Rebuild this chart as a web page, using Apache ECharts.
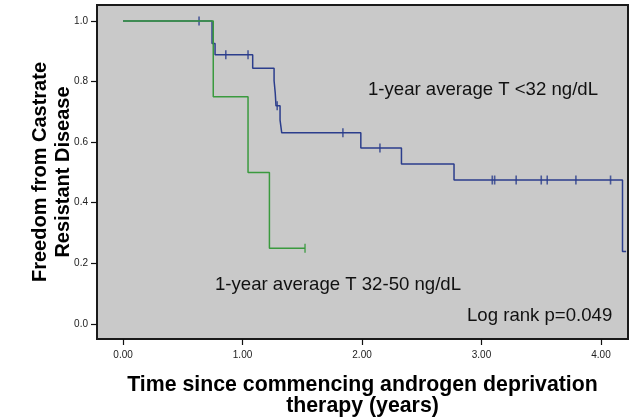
<!DOCTYPE html>
<html>
<head>
<meta charset="utf-8">
<script src="https://cdn.jsdelivr.net/npm/echarts@6/dist/echarts.min.js"></script>
<style>
    html, body { margin: 0; padding: 0; background: #fff; }
    #km_chart { width: 641px; height: 419px; }
</style>
</head>
<body>
<div id="km_chart"></div>
<script>
    // step curve for 1-year average T <32 ng/dL  [time (years), survival]
    const lowTSteps = [
        [0, 1.0], [0.745, 0.926], [0.77, 0.889], [1.085, 0.844],
        [1.264, 0.803], [1.274, 0.761], [1.28, 0.72], [1.314, 0.673],
        [1.328, 0.631], [1.99, 0.581], [2.33, 0.528], [2.77, 0.475],
        [4.18, 0.239], [4.21, 0.239]
    ];
    const lowTCensored = [
        [0.636, 1.0], [0.86, 0.889], [1.046, 0.889], [1.29, 0.72],
        [1.84, 0.631], [2.15, 0.581], [3.09, 0.475], [3.11, 0.475],
        [3.29, 0.475], [3.50, 0.475], [3.55, 0.475], [3.79, 0.475],
        [4.08, 0.475]
    ];
    // step curve for 1-year average T 32-50 ng/dL
    const midTSteps = [
        [0, 1.0], [0.755, 0.75], [1.046, 0.5], [1.225, 0.25], [1.523, 0.25]
    ];
    const midTCensored = [
        [1.523, 0.25]
    ];
    const xTicks = [0, 1, 2, 3, 4];
    const yTicks = [0, 0.2, 0.4, 0.6, 0.8, 1.0];

    const blue = '#2b3d8c';
    const green = '#3a9a3e';
    const noteFont = '18.6px Liberation Sans, Arial, sans-serif';

    const chart = echarts.init(document.getElementById('km_chart'));

    const option = {
        animation: false,
        textStyle: { fontFamily: 'Liberation Sans, Arial, sans-serif' },
        grid: {
            left: 97,
            top: 5,
            right: 13,
            bottom: 80,
            outerBoundsMode: 'none',
            show: true,
            backgroundColor: '#c9c9c9',
            borderColor: '#1a1a1a',
            borderWidth: 2
        },
        xAxis: {
            type: 'value',
            min: -0.218,
            max: 4.226,
            splitLine: { show: false },
            axisLine: { show: false, onZero: false },
            axisTick: {
                show: true,
                customValues: xTicks,
                length: 6,
                lineStyle: { color: '#111', width: 1.2 }
            },
            axisLabel: {
                customValues: xTicks,
                formatter: (v) => v.toFixed(2),
                color: '#222',
                fontSize: 10,
                margin: 11
            },
            name: 'Time since commencing androgen deprivation\ntherapy (years)',
            nameLocation: 'middle',
            nameGap: 36,
            nameMoveOverlap: false,
            nameTextStyle: {
                color: '#000',
                fontSize: 21.3,
                fontWeight: 'bold',
                lineHeight: 21
            }
        },
        yAxis: {
            type: 'value',
            min: -0.05,
            max: 1.053,
            splitLine: { show: false },
            axisLine: { show: false, onZero: false },
            axisTick: {
                show: true,
                customValues: yTicks,
                length: 6,
                lineStyle: { color: '#111', width: 1.2 }
            },
            axisLabel: {
                customValues: yTicks,
                formatter: (v) => v.toFixed(1),
                color: '#222',
                fontSize: 10,
                margin: 9
            },
            name: 'Freedom from Castrate\nResistant Disease',
            nameLocation: 'middle',
            nameGap: 22,
            nameMoveOverlap: false,
            nameTextStyle: {
                color: '#000',
                fontSize: 20,
                fontWeight: 'bold',
                lineHeight: 23
            }
        },
        series: [
            {
                name: 'T <32',
                type: 'line',
                step: 'end',
                symbol: 'none',
                lineStyle: { color: blue, width: 1.5 },
                data: lowTSteps,
                z: 2
            },
            {
                name: 'T <32 censored',
                type: 'scatter',
                symbol: 'rect',
                symbolSize: [1.6, 9],
                itemStyle: { color: blue },
                data: lowTCensored,
                z: 2
            },
            {
                name: 'T 32-50',
                type: 'line',
                step: 'end',
                symbol: 'none',
                lineStyle: { color: green, width: 1.5 },
                data: midTSteps,
                z: 3
            },
            {
                name: 'T 32-50 censored',
                type: 'scatter',
                symbol: 'rect',
                symbolSize: [1.6, 9],
                itemStyle: { color: green },
                data: midTCensored,
                z: 3
            }
        ],
        graphic: [
            {
                type: 'text',
                x: 368,
                y: 90,
                style: { text: '1-year average T <32 ng/dL', fill: '#111', font: noteFont, verticalAlign: 'middle' }
            },
            {
                type: 'text',
                x: 215,
                y: 285,
                style: { text: '1-year average T 32-50 ng/dL', fill: '#111', font: noteFont, verticalAlign: 'middle' }
            },
            {
                type: 'text',
                x: 467,
                y: 316,
                style: { text: 'Log rank p=0.049', fill: '#111', font: noteFont, verticalAlign: 'middle' }
            }
        ]
    };

    chart.setOption(option);

    window.addEventListener('resize', function () {
        chart.resize();
    });
</script>
</body>
</html>
